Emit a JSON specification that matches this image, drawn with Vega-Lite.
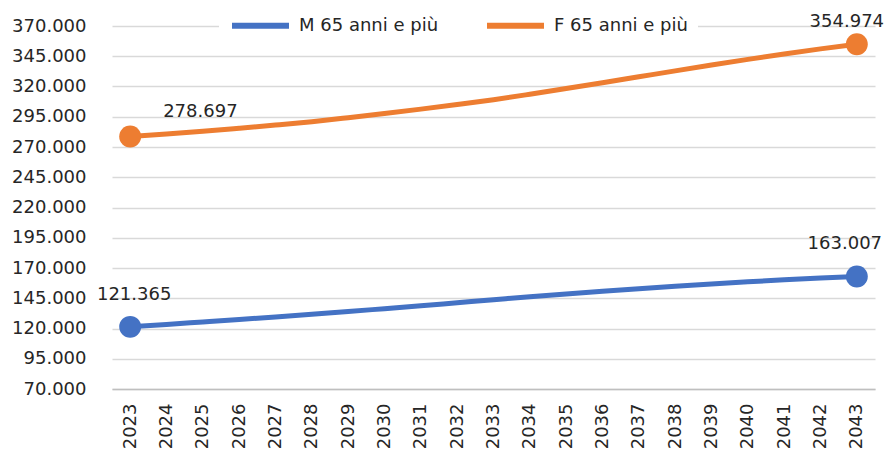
{
  "$schema": "https://vega.github.io/schema/vega-lite/v6.json",
  "width": 763,
  "height": 363,
  "autosize": {"type": "none"},
  "padding": {"left": 112, "top": 26, "right": 13, "bottom": 62},
  "background": "white",
  "config": {
    "font": "DejaVu Sans",
    "view": {"stroke": null},
    "locale": {"number": {"decimal": ",", "thousands": ".", "grouping": [3], "currency": ["€", ""]}}
  },
  "data": {
    "values": [
      {"anno": "2023", "serie": "M 65 anni e più", "valore": 121365},
      {"anno": "2024", "serie": "M 65 anni e più", "valore": 123400},
      {"anno": "2025", "serie": "M 65 anni e più", "valore": 125400},
      {"anno": "2026", "serie": "M 65 anni e più", "valore": 127400},
      {"anno": "2027", "serie": "M 65 anni e più", "valore": 129500},
      {"anno": "2028", "serie": "M 65 anni e più", "valore": 131700},
      {"anno": "2029", "serie": "M 65 anni e più", "valore": 134000},
      {"anno": "2030", "serie": "M 65 anni e più", "valore": 136400},
      {"anno": "2031", "serie": "M 65 anni e più", "valore": 138800},
      {"anno": "2032", "serie": "M 65 anni e più", "valore": 141300},
      {"anno": "2033", "serie": "M 65 anni e più", "valore": 143800},
      {"anno": "2034", "serie": "M 65 anni e più", "valore": 146300},
      {"anno": "2035", "serie": "M 65 anni e più", "valore": 148600},
      {"anno": "2036", "serie": "M 65 anni e più", "valore": 150800},
      {"anno": "2037", "serie": "M 65 anni e più", "valore": 152900},
      {"anno": "2038", "serie": "M 65 anni e più", "valore": 154900},
      {"anno": "2039", "serie": "M 65 anni e più", "valore": 156800},
      {"anno": "2040", "serie": "M 65 anni e più", "valore": 158600},
      {"anno": "2041", "serie": "M 65 anni e più", "valore": 160200},
      {"anno": "2042", "serie": "M 65 anni e più", "valore": 161700},
      {"anno": "2043", "serie": "M 65 anni e più", "valore": 163007},
      {"anno": "2023", "serie": "F 65 anni e più", "valore": 278697},
      {"anno": "2024", "serie": "F 65 anni e più", "valore": 280700},
      {"anno": "2025", "serie": "F 65 anni e più", "valore": 283000},
      {"anno": "2026", "serie": "F 65 anni e più", "valore": 285500},
      {"anno": "2027", "serie": "F 65 anni e più", "valore": 288100},
      {"anno": "2028", "serie": "F 65 anni e più", "valore": 290900},
      {"anno": "2029", "serie": "F 65 anni e più", "valore": 294200},
      {"anno": "2030", "serie": "F 65 anni e più", "valore": 297700},
      {"anno": "2031", "serie": "F 65 anni e più", "valore": 301300},
      {"anno": "2032", "serie": "F 65 anni e più", "valore": 305100},
      {"anno": "2033", "serie": "F 65 anni e più", "valore": 309100},
      {"anno": "2034", "serie": "F 65 anni e più", "valore": 313600},
      {"anno": "2035", "serie": "F 65 anni e più", "valore": 318300},
      {"anno": "2036", "serie": "F 65 anni e più", "valore": 323100},
      {"anno": "2037", "serie": "F 65 anni e più", "valore": 328000},
      {"anno": "2038", "serie": "F 65 anni e più", "valore": 332900},
      {"anno": "2039", "serie": "F 65 anni e più", "valore": 337700},
      {"anno": "2040", "serie": "F 65 anni e più", "valore": 342400},
      {"anno": "2041", "serie": "F 65 anni e più", "valore": 346900},
      {"anno": "2042", "serie": "F 65 anni e più", "valore": 351100},
      {"anno": "2043", "serie": "F 65 anni e più", "valore": 354974}
    ]
  },
  "encoding": {
    "x": {
      "field": "anno",
      "type": "ordinal",
      "scale": {"type": "point", "padding": 0.5},
      "axis": {
        "title": null,
        "labelAngle": -90,
        "labelAlign": "right",
        "labelBaseline": "middle",
        "labelFontSize": 18,
        "labelColor": "#262626",
        "labelPadding": 14,
        "ticks": false,
        "domainColor": "#BFBFBF",
        "domainWidth": 1.5,
        "grid": false
      }
    },
    "y": {
      "field": "valore",
      "type": "quantitative",
      "scale": {"domain": [70000, 370000], "nice": false, "zero": false},
      "axis": {
        "title": null,
        "values": [70000, 95000, 120000, 145000, 170000, 195000, 220000, 245000, 270000, 295000, 320000, 345000, 370000],
        "format": ",d",
        "labelFontSize": 18,
        "labelColor": "#262626",
        "labelPadding": 26,
        "ticks": false,
        "domain": false,
        "gridColor": "#D9D9D9",
        "gridWidth": 1.5
      }
    }
  },
  "layer": [
    {
      "mark": {"type": "line", "interpolate": "monotone", "strokeWidth": 5, "strokeCap": "round"},
      "encoding": {
        "color": {
          "field": "serie",
          "type": "nominal",
          "scale": {"domain": ["M 65 anni e più", "F 65 anni e più"], "range": ["#4472C4", "#ED7D31"]},
          "legend": {
            "title": null,
            "orient": "none",
            "direction": "horizontal",
            "legendX": 107,
            "legendY": -42,
            "padding": 10,
            "fillColor": "white",
            "symbolType": "stroke",
            "symbolSize": 3249,
            "symbolStrokeWidth": 6,
            "labelFontSize": 18,
            "labelColor": "#262626",
            "labelOffset": 7,
            "columnPadding": 36
          }
        }
      }
    },
    {
      "transform": [{"filter": "datum.anno == '2023' || datum.anno == '2043'"}],
      "mark": {"type": "circle", "size": 480, "opacity": 1},
      "encoding": {
        "color": {"field": "serie", "type": "nominal", "legend": null}
      }
    },
    {
      "transform": [{"filter": "datum.anno == '2023' && datum.serie == 'F 65 anni e più'"}],
      "mark": {"type": "text", "align": "left", "baseline": "alphabetic", "dx": 33, "dy": -19, "fontSize": 18, "color": "#262626"},
      "encoding": {"text": {"field": "valore", "type": "quantitative", "format": ",d"}}
    },
    {
      "transform": [{"filter": "datum.anno == '2043' && datum.serie == 'F 65 anni e più'"}],
      "mark": {"type": "text", "align": "center", "baseline": "alphabetic", "dx": -10, "dy": -17, "fontSize": 18, "color": "#262626"},
      "encoding": {"text": {"field": "valore", "type": "quantitative", "format": ",d"}}
    },
    {
      "transform": [{"filter": "datum.anno == '2023' && datum.serie == 'M 65 anni e più'"}],
      "mark": {"type": "text", "align": "center", "baseline": "alphabetic", "dx": 4, "dy": -27, "fontSize": 18, "color": "#262626"},
      "encoding": {"text": {"field": "valore", "type": "quantitative", "format": ",d"}}
    },
    {
      "transform": [{"filter": "datum.anno == '2043' && datum.serie == 'M 65 anni e più'"}],
      "mark": {"type": "text", "align": "center", "baseline": "alphabetic", "dx": -12, "dy": -27, "fontSize": 18, "color": "#262626"},
      "encoding": {"text": {"field": "valore", "type": "quantitative", "format": ",d"}}
    }
  ]
}
